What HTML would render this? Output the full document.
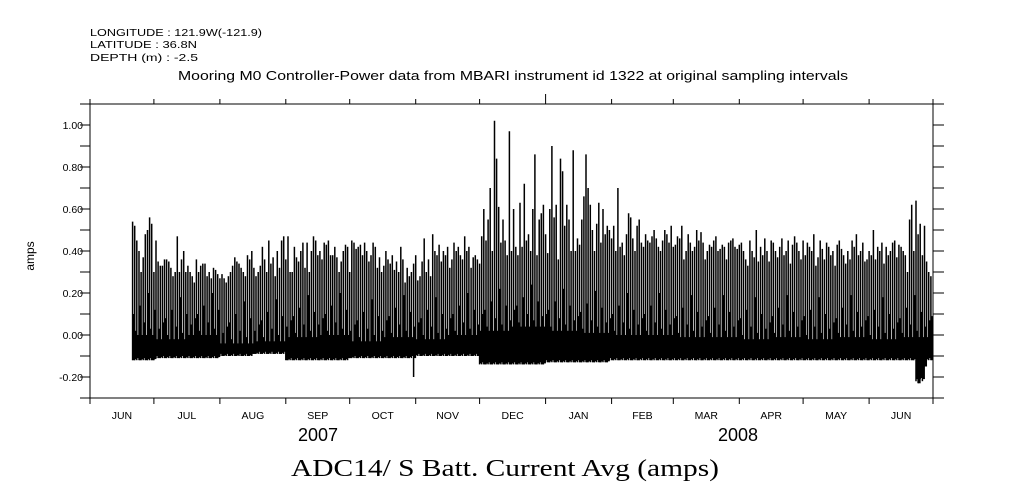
<!DOCTYPE html>
<html><head><meta charset="utf-8">
<style>
body{margin:0;background:#fff;}
svg{display:block;}
text{font-family:"Liberation Sans",sans-serif;fill:#000;}
</style></head>
<body>
<svg id="chart" width="1009" height="504" viewBox="0 0 1009 504" xmlns="http://www.w3.org/2000/svg">
<g font-size="10.5">
<text x="90" y="36" textLength="172" lengthAdjust="spacingAndGlyphs">LONGITUDE : 121.9W(-121.9)</text>
<text x="90" y="48" textLength="107" lengthAdjust="spacingAndGlyphs">LATITUDE : 36.8N</text>
<text x="90" y="61" textLength="108" lengthAdjust="spacingAndGlyphs">DEPTH (m) : -2.5</text>
</g>
<text x="178" y="80" font-size="12.5" textLength="670" lengthAdjust="spacingAndGlyphs">Mooring M0 Controller-Power data from MBARI instrument id 1322 at original sampling intervals</text>
<g id="plot"></g>
<g id="axes"></g>
<text transform="translate(34,256) rotate(-90)" font-size="12" text-anchor="middle">amps</text>
<text x="318" y="441" font-size="18" text-anchor="middle">2007</text>
<text x="738" y="441" font-size="18" text-anchor="middle">2008</text>
<text x="291" y="476" font-size="24" textLength="428" lengthAdjust="spacingAndGlyphs" style="font-family:'Liberation Serif',serif">ADC14/ S Batt. Current Avg (amps)</text>
</svg>
<script>
const startDay = 20;
const peaks = [54,52,45,40,30,37,48,50,56,53,
30,45,35,33,33,36,36,35,32,28,30,47,30,36,40,30,33,30,28,25,36,30,33,34,34,28,30,27,32,31,29,
27,29,27,25,28,30,33,37,35,34,32,30,28,38,36,40,32,28,30,33,42,36,30,45,34,37,28,40,32,45,47,
36,47,30,30,42,37,35,40,44,32,44,30,40,47,45,38,40,36,44,43,45,38,38,42,37,30,35,40,43,42,
30,45,44,41,42,43,38,44,40,35,38,44,42,32,37,30,33,40,36,34,38,31,35,30,42,36,25,32,28,30,34,
38,26,28,35,46,30,36,28,48,40,38,43,35,40,38,42,32,36,44,40,42,38,36,47,40,42,32,37,38,36,
34,47,60,45,55,70,40,102,84,61,44,55,45,38,97,40,60,42,38,63,42,72,45,48,40,60,86,38,55,58,62,
48,39,60,90,56,62,36,84,78,52,62,55,40,88,40,46,43,55,66,86,70,62,50,40,53,63,44,60,48,52,50,
46,52,40,70,42,44,38,48,58,56,46,40,52,55,44,42,48,45,44,47,50,46,42,40,45,50,48,44,52,
42,43,47,46,52,36,40,48,44,40,42,50,45,49,44,36,40,43,42,45,47,40,41,43,42,36,44,45,46,42,41,
43,44,40,36,33,45,40,37,50,35,42,38,46,40,35,45,44,40,37,42,46,38,40,45,34,43,47,44,40,36,
45,38,44,42,40,48,33,37,45,41,36,44,42,38,40,33,43,45,41,38,34,40,36,45,42,48,38,40,44,35,36,
40,38,50,36,42,40,44,34,42,38,40,44,45,37,43,42,40,38,30,55,62,40,64,48,53,38,52,35,30,28];
const subLevels = [10,2,0,14,-2,6,0,20,3,-1,12,0,5,-3,8];
const lows = [-12,-12,-11,-11,-10,-9,-12,-12,-11,-11,-10,-10,-14,-14,-13,-13,-12,-12,-12,-12,-12,-12,-12,-12,-12,-12];
const bandTops = [0,0,-2,0,-4,-3,-1,0,-3,-1,-2,0,2,4,2,1,0,0,-1,-1,-2,-1,-2,-1,-2,-1];
const spikeDipDays = [152];
const spikeDipLows = [-20];
const dipDays = [388,389,390,391,392];
const dipLows = [-22,-23,-21,-22,-15];
const monthLabels = ["JUN","JUL","AUG","SEP","OCT","NOV","DEC","JAN","FEB","MAR","APR","MAY","JUN"];
const monthStarts = [0,30,61,92,122,153,183,214,245,274,305,335,366,396];
const yTicks = [1.0,0.8,0.6,0.4,0.2,0.0,-0.2];
const yTickLabels = ["1.00","0.80","0.60","0.40","0.20","0.00","-0.20"];

const X0=90,X1=933,Y0=104,Y1=398,DAYS=396,VMIN=-0.3,VMAX=1.1;
const xs = d => X0 + d*(X1-X0)/DAYS;
const ys = v => Y1 - (v-VMIN)*(Y1-Y0)/(VMAX-VMIN);
const NS="http://www.w3.org/2000/svg";
function mk(tag,attrs,parent){const e=document.createElementNS(NS,tag);for(const k in attrs)e.setAttribute(k,attrs[k]);parent.appendChild(e);return e;}
const plot=document.getElementById('plot'), axes=document.getElementById('axes');

peaks.forEach((p,i)=>{
  const d=startDay+i;
  const h=Math.min(lows.length-1,Math.floor(d/15.23));
  let lo=lows[h]/100;
  const di=dipDays.indexOf(d);
  if(di>=0) lo=dipLows[di]/100;
  let spLo=lo;
  const si=spikeDipDays.indexOf(d);
  if(si>=0) spLo=spikeDipLows[si]/100;
  const bt=bandTops[h]/100;
  const sub=Math.max(bt,bt+subLevels[i%subLevels.length]/100);
  const x=xs(d);
  const band=mk('rect',{x:x.toFixed(1),y:ys(sub).toFixed(1),width:(xs(1)-xs(0)+0.4).toFixed(2),height:(ys(lo+0.005*(i%3))-ys(sub)).toFixed(1),fill:'#000'},plot);
  
  
  const ln=mk('line',{x1:x.toFixed(1),x2:x.toFixed(1),y1:ys(spLo).toFixed(1),y2:ys(p/100).toFixed(1),stroke:'#000','stroke-width':1.5},plot);
  
  
});

const frame=mk('rect',{x:X0,y:Y0,width:X1-X0,height:Y1-Y0,fill:'none',stroke:'#000','stroke-width':1},axes);


for(let v=-0.3;v<=1.101;v+=0.1){
  const y=ys(v).toFixed(1);
  mk('line',{x1:X0-10,x2:X0,y1:y,y2:y,stroke:'#000'},axes);
  mk('line',{x1:X1,x2:X1+11,y1:y,y2:y,stroke:'#000'},axes);
}
yTicks.forEach((v,i)=>{
  const t=mk('text',{x:X0-7,y:ys(v)+4,'font-size':10.5,'text-anchor':'end'},axes);
  t.textContent=yTickLabels[i];
  
  
});
monthStarts.forEach((d,i)=>{
  const x=xs(d).toFixed(1);
  mk('line',{x1:x,x2:x,y1:Y1,y2:Y1+6,stroke:'#000'},axes);
  mk('line',{x1:x,x2:x,y1:Y0,y2:(d===214?Y0-10:Y0-5),stroke:'#000'},axes);
  if(i<monthLabels.length){
    const t=mk('text',{x:((xs(d)+xs(monthStarts[i+1]))/2).toFixed(1),y:419,'font-size':10.5,'text-anchor':'middle'},axes);
    t.textContent=monthLabels[i];
    
    
  }
});
</script>
</body></html>
